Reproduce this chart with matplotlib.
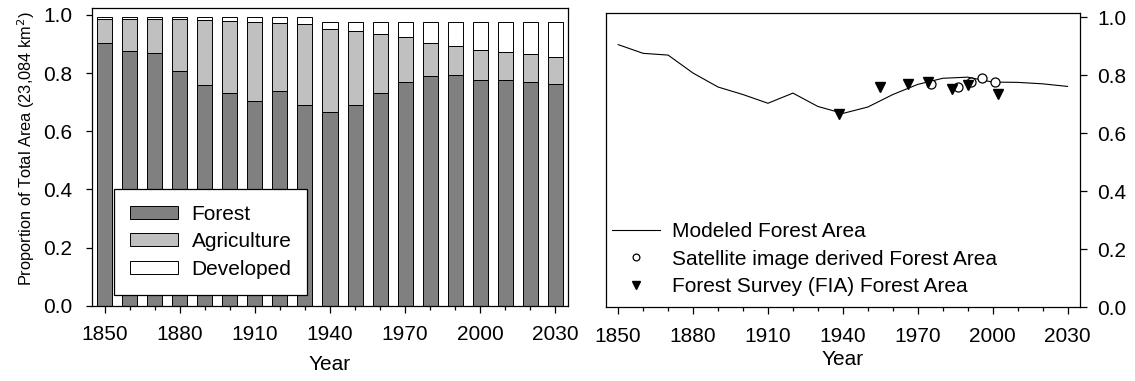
import numpy as np
import matplotlib
matplotlib.use("Agg")
import matplotlib.pyplot as plt
from matplotlib.ticker import FixedLocator, FormatStrFormatter, MultipleLocator

plt.rcParams['font.family'] = ['Liberation Sans', 'DejaVu Sans']
plt.rcParams['font.size'] = 15

# Données
years = [1850, 1860, 1870, 1880, 1890, 1900, 1910, 1920, 1930, 1940,
         1950, 1960, 1970, 1980, 1990, 2000, 2010, 2020, 2030]
forest = [0.905, 0.875, 0.869, 0.807, 0.759, 0.733, 0.703, 0.738, 0.692, 0.668,
          0.690, 0.733, 0.768, 0.789, 0.793, 0.776, 0.775, 0.770, 0.761]
agriculture = [0.080, 0.110, 0.116, 0.178, 0.224, 0.247, 0.273, 0.236, 0.277, 0.283,
               0.254, 0.201, 0.156, 0.114, 0.102, 0.104, 0.097, 0.096, 0.096]
developed = [0.007, 0.007, 0.007, 0.007, 0.009, 0.012, 0.016, 0.018, 0.023, 0.025,
             0.032, 0.042, 0.052, 0.073, 0.081, 0.096, 0.104, 0.110, 0.119]

sat_years = [1975.3, 1986.2, 1991.3, 1995.9, 2001.1]
sat_forest = [0.770, 0.759, 0.775, 0.790, 0.777]
fia_years = [1938.3, 1955.0, 1965.9, 1974.1, 1983.9, 1990.3, 2002.2]
fia_forest = [0.667, 0.759, 0.771, 0.775, 0.752, 0.767, 0.735]

major_years = years[::3]

forest = np.array(forest)
agriculture = np.array(agriculture)
developed = np.array(developed)

W, H = 1135, 381
fig = plt.figure(figsize=(W / 100, H / 100), dpi=100)
ax1 = fig.add_axes([92 / W, (H - 305.7) / H, 476 / W, 297.4 / H])
ax2 = fig.add_axes([605.7 / W, (H - 307.3) / H, 474.3 / W, 294.3 / H])

# Panneau gauche : barres empilées
w = 6
ax1.bar(years, forest, width=w, color='#808080', edgecolor='black', linewidth=0.7, label='Forest')
ax1.bar(years, agriculture, width=w, bottom=forest, color='#c0c0c0', edgecolor='black',
        linewidth=0.7, label='Agriculture')
ax1.bar(years, developed, width=w, bottom=forest + agriculture, color='white', edgecolor='black',
        linewidth=0.7, label='Developed')

ax1.set_xlim(1845, 2035)
ax1.set_ylim(0, 1.023)
ax1.set_xlabel('Year')
ax1.xaxis.set_label_coords(0.5, -0.165)
ax1.set_ylabel('Proportion of Total Area (23,084 km$^2$)', fontsize=11.8)
ax1.yaxis.set_label_coords(-0.116, 0.529)
leg = ax1.legend(loc='lower left', bbox_to_anchor=(0.047, 0.037), borderaxespad=0,
                 frameon=True, fancybox=False, framealpha=1, edgecolor='black',
                 handlelength=2.3, handleheight=0.58, borderpad=0.75, labelspacing=0.42,
                 handletextpad=0.65, fontsize=15)
leg.get_frame().set_linewidth(0.9)

# Panneau droit : surface forestière
ax2.plot(years, forest, color='black', linewidth=0.8, label='Modeled Forest Area')
ax2.plot(sat_years, sat_forest, linestyle='none', marker='o', markersize=6.5,
         markerfacecolor='white', markeredgecolor='black', markeredgewidth=0.9,
         label='Satellite image derived Forest Area')
ax2.plot(fia_years, fia_forest, linestyle='none', marker='v', markersize=7,
         color='black', label='Forest Survey (FIA) Forest Area')
ax2.set_xlim(1845, 2035)
ax2.set_ylim(0, 1.014)
ax2.set_xlabel('Year')
ax2.xaxis.set_label_coords(0.5, -0.145)
ax2.yaxis.tick_right()
ax2.legend(loc='upper left', bbox_to_anchor=(0.0127, 0.29), borderaxespad=0, frameon=False,
           markerscale=0.75, borderpad=0, handlelength=2.3, labelspacing=0.42,
           handletextpad=0.6, fontsize=15)

for ax in (ax1, ax2):
    ax.xaxis.set_major_locator(FixedLocator(major_years))
    ax.xaxis.set_minor_locator(FixedLocator(years))
    ax.yaxis.set_major_locator(MultipleLocator(0.2))
    ax.yaxis.set_major_formatter(FormatStrFormatter('%.1f'))
    ax.tick_params(which='major', direction='out', length=5, width=0.9)
    ax.tick_params(which='minor', direction='out', length=3, width=0.9)
    ax.tick_params(axis='x', which='major', pad=9)
    for s in ax.spines.values():
        s.set_linewidth(0.9)

ax1.tick_params(axis='y', which='major', length=4, pad=10)
ax2.tick_params(axis='y', which='major', length=5, pad=7.5)

plt.savefig('out.png', dpi=100)
